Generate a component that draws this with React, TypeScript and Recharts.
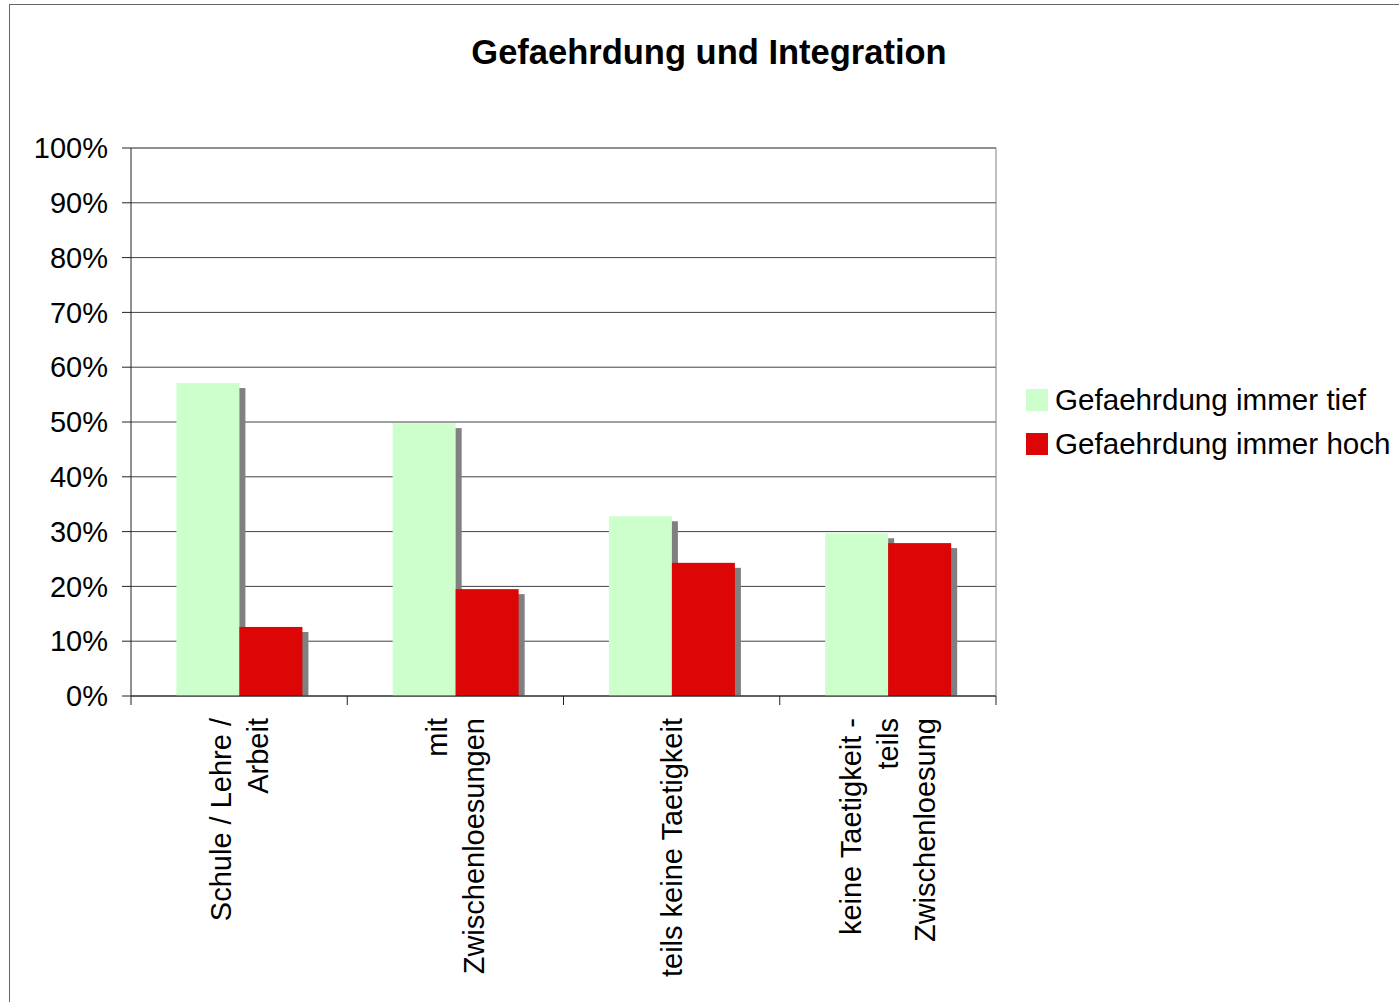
import React from "react";
import {
  BarChart,
  Bar,
  XAxis,
  YAxis,
  CartesianGrid,
  ReferenceLine,
} from "recharts";

const categories = [
  "Schule / Lehre /\nArbeit",
  "mit\nZwischenloesungen",
  "teils keine Taetigkeit",
  "keine Taetigkeit -\nteils\nZwischenloesung",
];
const seriesNames = ["Gefaehrdung immer tief", "Gefaehrdung immer hoch"];
const tiefValues = [0.571, 0.498, 0.328, 0.297];
const hochValues = [0.126, 0.195, 0.243, 0.279];
const yTicks = [0, 0.1, 0.2, 0.3, 0.4, 0.5, 0.6, 0.7, 0.8, 0.9, 1];
const colors = ["#CCFFCC", "#DD0606"];

const data = categories.map((c, i) => ({
  name: c,
  tief: tiefValues[i],
  hoch: hochValues[i],
}));

const FONT = "'Liberation Sans', Arial, sans-serif";

const ShadowBar = (props: any) => {
  const { x, y, width, height, fill } = props;
  if (height == null || height <= 0) return <g />;
  return (
    <g>
      <rect
        x={x + 6}
        y={y + 5}
        width={width}
        height={Math.max(0, height - 5)}
        fill="#808080"
      />
      <rect x={x} y={y} width={width} height={height} fill={fill} />
    </g>
  );
};

const XTick = (props: any) => {
  const { x, y, payload, index, visibleTicksCount } = props;
  const lines: string[] = String(payload.value).split("\n");
  const n = lines.length;
  const lh = 37;
  const half = payload.offset || 108;
  const isLast = index === (visibleTicksCount ?? 4) - 1;
  return (
    <g>
      <line x1={x - half} x2={x - half} y1={y} y2={y + 9} stroke="#222" />
      {isLast && (
        <line x1={x + half} x2={x + half} y1={y} y2={y + 9} stroke="#222" />
      )}
      <g transform={`translate(${x},${y + 22}) rotate(-90)`}>
        {lines.map((l, i) => (
          <text
            key={i}
            x={0}
            y={(i - (n - 1) / 2) * lh + 10}
            textAnchor="end"
            fontSize={29}
            fontFamily={FONT}
            fill="#000"
          >
            {l}
          </text>
        ))}
      </g>
    </g>
  );
};

export default function App() {
  return (
    <div
      style={{
        position: "fixed",
        left: 0,
        top: 0,
        width: 1399,
        height: 1002,
        background: "#fff",
        overflow: "hidden",
      }}
    >
      <div
        style={{
          position: "absolute",
          left: 9,
          top: 4,
          width: 1420,
          height: 1020,
          border: "1px solid #666",
          boxSizing: "border-box",
        }}
      />
      <div
        style={{
          position: "absolute",
          left: 0,
          top: 33,
          width: 1418,
          textAlign: "center",
          fontFamily: FONT,
          fontWeight: "bold",
          fontSize: 34.5,
          color: "#000",
        }}
      >
        Gefaehrdung und Integration
      </div>
      <div style={{ position: "absolute", left: 0, top: 0 }}>
        <BarChart
          width={1399}
          height={1002}
          data={data}
          margin={{ top: 148, right: 402, bottom: 6, left: 31 }}
          barCategoryGap="21%"
          barGap={0}
        >
          <CartesianGrid
            yAxisId="left"
            vertical={false}
            stroke="#404040"
            strokeDasharray=""
          />
          <XAxis
            dataKey="name"
            height={300}
            interval={0}
            tick={<XTick />}
            tickLine={false}
            tickSize={0}
            tickMargin={0}
            axisLine={{ stroke: "#222" }}
          />
          <YAxis
            yAxisId="left"
            width={100}
            domain={[0, 1]}
            ticks={yTicks}
            interval={0}
            tickFormatter={(v: number) => `${Math.round(v * 100)}%`}
            tick={{ fontSize: 29, fontFamily: FONT, fill: "#000" }}
            tickSize={9}
            tickMargin={14}
            tickLine={{ stroke: "#222" }}
            axisLine={{ stroke: "#222" }}
          />
          <YAxis
            yAxisId="right"
            orientation="right"
            width={1}
            domain={[0, 1]}
            tick={false}
            tickLine={false}
            axisLine={{ stroke: "#808080" }}
          />
          <ReferenceLine yAxisId="left" y={1} stroke="#808080" />
          <Bar
            yAxisId="left"
            dataKey="tief"
            name={seriesNames[0]}
            fill={colors[0]}
            shape={<ShadowBar />}
            isAnimationActive={false}
          />
          <Bar
            yAxisId="left"
            dataKey="hoch"
            name={seriesNames[1]}
            fill={colors[1]}
            shape={<ShadowBar />}
            isAnimationActive={false}
          />
        </BarChart>
      </div>
      <div
        style={{
          position: "absolute",
          left: 1026,
          top: 378,
          fontFamily: FONT,
          fontSize: 29.6,
          color: "#000",
        }}
      >
        {seriesNames.map((s, i) => (
          <div
            key={s}
            style={{ display: "flex", alignItems: "center", height: 44 }}
          >
            <div
              style={{
                width: 22,
                height: 22,
                background: colors[i],
                marginRight: 7,
              }}
            />
            <span style={{ whiteSpace: "nowrap" }}>{s}</span>
          </div>
        ))}
      </div>
    </div>
  );
}
